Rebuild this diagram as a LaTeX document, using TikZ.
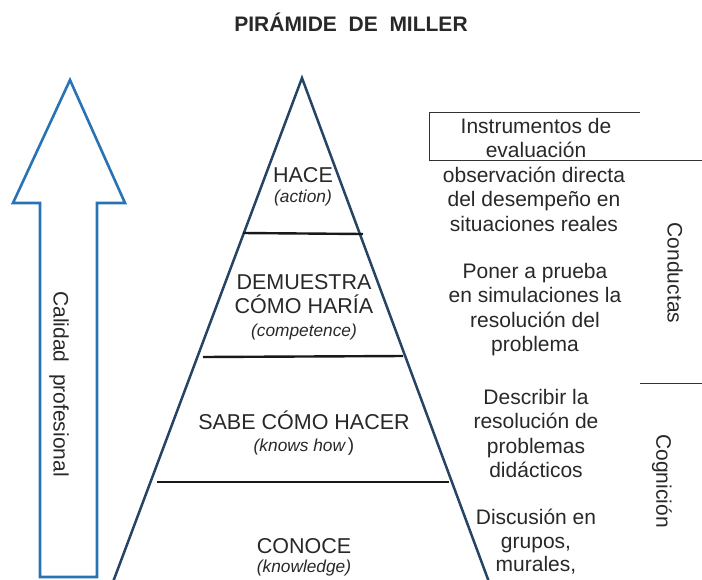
\documentclass[tikz,border=0pt]{standalone}
\usepackage{fontspec}
\setmainfont{Liberation Sans}
\usetikzlibrary{positioning}
\definecolor{pyr}{RGB}{38,68,100}
\definecolor{arr}{RGB}{40,115,180}
\definecolor{txt}{RGB}{40,40,40}

\begin{document}
\begin{tikzpicture}[x=1pt,y=-1pt]
\useasboundingbox (0,0) rectangle (702,579);

% set style here
\tikzstyle{every node}=[text=txt,align=center,inner sep=0pt,font=\fontsize{21}{24.5}\selectfont];
\tikzstyle{lvl}=[font=\fontsize{21.5}{24}\selectfont];
\tikzstyle{eng}=[font=\fontsize{17.3}{20}\selectfont\itshape];
\tikzstyle{sep}=[line width=2.4pt,black!90];
%
\node (title) at (351,22) [font=\fontsize{21}{25}\selectfont\bfseries] {PIRÁMIDE\ \ DE\ \ MILLER};

% arrow
\draw[arr,line width=2.6pt,line join=miter] (70,80) -- (125,203) -- (97,203) -- (97,577)
      -- (40,577) -- (40,203) -- (13,203) -- cycle;
\node (cal) at (59,384) [rotate=-90] {Calidad\ \ profesional};

% pyramid
\coordinate (top) at (302,78);
\coordinate (bl) at (113,582);
\coordinate (br) at (489,582);
\draw[pyr,line width=2.5pt] (bl) -- (top) -- (br);
\draw[sep] (243,233) -- (363,234);
\draw[sep] (203,357) -- (403,356);
\draw[sep] (157,482) -- (449,482);

\node (l0) at (303,175) [lvl] {HACE};
\node (e0) at (303,198) [eng] {(action)};
\node (l1) at (304,294) [lvl] {DEMUESTRA\\CÓMO HARÍA};
\node (e1) at (304,332) [eng] {(competence)};
\node (l2) at (304,420) [lvl] {SABE CÓMO HACER};
\node (e2) at (304,447) [eng] {(knows how\,\upshape\fontsize{19}{20}\selectfont)};
\node (l3) at (304,546) [lvl] {CONOCE};
\node (e3) at (304,568) [eng] {(knowledge)};

% instruments
\draw[line width=0.8pt,black!80] (640,112) -- (429,112) -- (429,160) -- (702,160);
\node (ins) at (536,138) {Instrumentos de\\evaluación};
\node (i0) at (534,199) {observación directa\\del desempeño en\\situaciones reales};
\node (i1) at (535,309.5) {Poner a prueba\\en simulaciones la\\resolución del\\problema};
\node (i2) at (536,433.5) {Describir la\\resolución de\\problemas\\didácticos};
\node (i3) at (536,542) [font=\fontsize{21}{23.5}\selectfont] {Discusión en\\grupos,\\murales,};

% right side
\node (cond) at (675,273) [rotate=-90] {Conductas};
\draw[line width=0.8pt,black!80] (640,383) -- (702,383);
\node (cogn) at (662,481) [rotate=-90] {Cognición};

\end{tikzpicture}
\end{document}
